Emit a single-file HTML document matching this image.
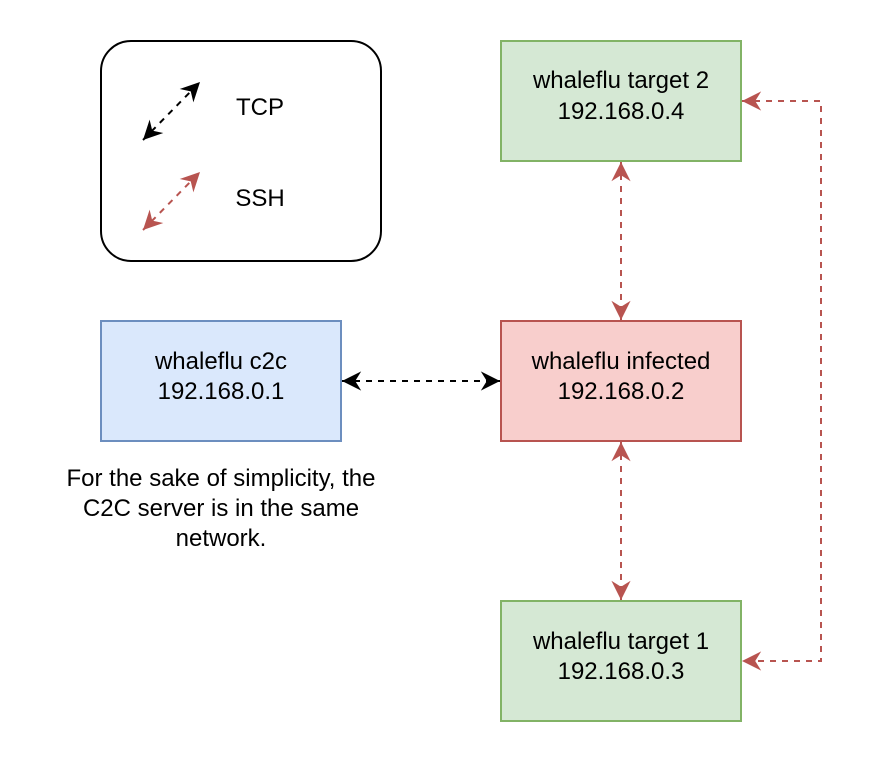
<!DOCTYPE html>
<html><head><style>html,body{margin:0;padding:0;background:#fff}</style></head><body>
<svg width="880" height="764" viewBox="0 0 880 764" xmlns="http://www.w3.org/2000/svg" font-family="Liberation Sans, Arial, sans-serif" font-size="24">
<defs>
<marker id="ab" markerUnits="userSpaceOnUse" markerWidth="24" markerHeight="24" refX="0" refY="0" viewBox="-16 -10 18 20" orient="auto-start-reverse">
<path d="M0,0 L-16,-8 L-11,0 L-16,8 Z" fill="#000"/></marker>
<marker id="ar" markerUnits="userSpaceOnUse" markerWidth="24" markerHeight="24" refX="0" refY="0" viewBox="-16 -10 18 20" orient="auto-start-reverse">
<path d="M0,0 L-16,-8 L-11,0 L-16,8 Z" fill="#b85450"/></marker>
</defs>
<rect x="101" y="41" width="280" height="220" rx="30" fill="#fff" stroke="#000" stroke-width="2"/>
<line x1="143" y1="140" x2="200" y2="82" stroke="#000" stroke-width="2" stroke-dasharray="6 6" marker-start="url(#ab)" marker-end="url(#ab)"/>
<line x1="143" y1="230" x2="200" y2="172" stroke="#b85450" stroke-width="2" stroke-dasharray="6 6" marker-start="url(#ar)" marker-end="url(#ar)"/>
<text x="260" y="115" text-anchor="middle">TCP</text>
<text x="260" y="206" text-anchor="middle">SSH</text>

<rect x="501" y="41" width="240" height="120" fill="#d5e8d4" stroke="#82b366" stroke-width="2"/>
<text x="621" y="88" text-anchor="middle">whaleflu target 2</text>
<text x="621" y="119" text-anchor="middle">192.168.0.4</text>

<rect x="501" y="321" width="240" height="120" fill="#f8cecc" stroke="#b85450" stroke-width="2"/>
<text x="621" y="369" text-anchor="middle">whaleflu infected</text>
<text x="621" y="399" text-anchor="middle">192.168.0.2</text>

<rect x="501" y="601" width="240" height="120" fill="#d5e8d4" stroke="#82b366" stroke-width="2"/>
<text x="621" y="649" text-anchor="middle">whaleflu target 1</text>
<text x="621" y="679" text-anchor="middle">192.168.0.3</text>

<rect x="101" y="321" width="240" height="120" fill="#dae8fc" stroke="#6c8ebf" stroke-width="2"/>
<text x="221" y="369" text-anchor="middle">whaleflu c2c</text>
<text x="221" y="399" text-anchor="middle">192.168.0.1</text>

<text x="221" y="486" text-anchor="middle">For the sake of simplicity, the</text>
<text x="221" y="516" text-anchor="middle">C2C server is in the same</text>
<text x="221" y="546" text-anchor="middle">network.</text>

<line x1="342" y1="381" x2="500" y2="381" stroke="#000" stroke-width="2" stroke-dasharray="6 6" marker-start="url(#ab)" marker-end="url(#ab)"/>
<line x1="621" y1="162" x2="621" y2="320" stroke="#b85450" stroke-width="2" stroke-dasharray="6 6" marker-start="url(#ar)" marker-end="url(#ar)"/>
<line x1="621" y1="442" x2="621" y2="600" stroke="#b85450" stroke-width="2" stroke-dasharray="6 6" marker-start="url(#ar)" marker-end="url(#ar)"/>
<polyline points="742,101 821,101 821,661 742,661" fill="none" stroke="#b85450" stroke-width="2" stroke-dasharray="6 6" marker-start="url(#ar)" marker-end="url(#ar)"/>
</svg>
</body></html>
